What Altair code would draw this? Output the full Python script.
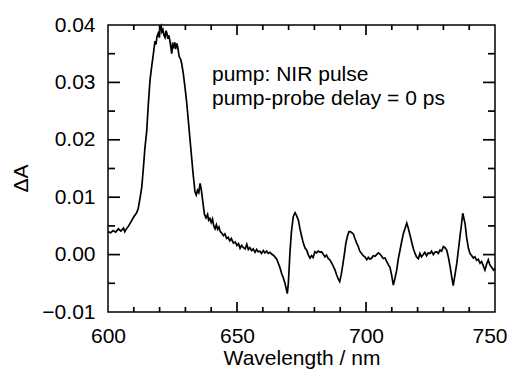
import altair as alt
import pandas as pd

# ---- spectrum ----
wavelength_nm = [
    600, 601, 602, 603, 604, 605, 606, 606.5, 607, 608, 609, 610, 611, 611.7, 612.4, 613.1, 613.7,
    614.3, 615.0, 615.6, 616.3, 617.0, 617.6, 618.2, 618.6, 619.0, 619.5, 619.9, 620.2, 620.6,
    620.9, 621.3, 621.7, 622.1, 622.5, 622.8, 623.2, 623.6, 624.0, 624.4, 624.7, 625.0, 625.4,
    625.8, 626.2, 626.6, 627.0, 627.6, 628.2, 628.6, 629.2, 629.8, 630.5, 631.1, 631.8, 632.4,
    633.0, 633.7, 634.2, 634.7, 635.2, 635.7, 636.2, 636.8, 637.4, 638.0, 638.6, 639.0, 639.5,
    640.0, 640.5, 641.0, 641.5, 642.0, 642.5, 643.0, 643.5, 644.0, 644.7, 645.3, 646.0, 646.6,
    647.2, 647.8, 648.6, 649.3, 650.0, 650.6, 651.2, 651.8, 652.5, 653.2, 653.8, 654.4, 655.0,
    655.7, 656.3, 657.0, 657.6, 658.2, 658.9, 659.5, 660.2, 660.8, 661.5, 662.1, 662.8, 663.4,
    664.1, 664.7, 665.4, 666.0, 666.6, 667.3, 667.9, 668.6, 669.1, 669.5, 669.9, 670.2, 670.5,
    671.1, 671.8, 672.5, 673.1, 673.8, 674.4, 675.1, 675.7, 676.4, 677.0, 677.6, 678.3, 678.9,
    679.5, 680.2, 680.8, 681.5, 682.2, 682.8, 683.5, 684.1, 684.7, 685.4, 686.0, 686.7, 687.3,
    688.0, 688.6, 689.2, 689.8, 690.4, 691.0, 691.6, 692.2, 692.8, 693.4, 693.9, 694.5, 695.1,
    695.7, 696.4, 697.0, 697.6, 698.3, 698.9, 699.6, 700.3, 700.9, 701.5, 702.2, 702.8, 703.5,
    704.1, 704.8, 705.4, 706.1, 706.7, 707.4, 708.0, 708.7, 709.3, 709.9, 710.6, 711.2, 711.9,
    712.5, 713.2, 713.8, 714.5, 715.1, 715.8, 716.4, 717.1, 717.7, 718.3, 719.0, 719.6, 720.3,
    720.9, 721.5, 722.2, 722.8, 723.5, 724.1, 724.8, 725.4, 726.1, 726.7, 727.4, 728.0, 728.7,
    729.3, 730.0, 730.6, 731.3, 731.9, 732.6, 733.2, 733.8, 734.5, 735.2, 735.8, 736.4, 737.0,
    737.5, 738.0, 738.4, 739.0, 739.7, 740.3, 741.0, 741.6, 742.2, 742.9, 743.5, 744.2, 744.8,
    745.5, 746.1, 746.8, 747.4, 748.0, 748.7, 749.4, 750.0,
]
delta_a = [
    0.0040, 0.0038, 0.0042, 0.0039, 0.0045, 0.0041, 0.0046, 0.0040, 0.0044, 0.0050, 0.0058, 0.0066,
    0.0072, 0.0080, 0.0098, 0.0118, 0.0150, 0.0185, 0.0215, 0.0260, 0.0305, 0.0330, 0.0350, 0.0372,
    0.0366, 0.0380, 0.0386, 0.0378, 0.0394, 0.0398, 0.0388, 0.0392, 0.0382, 0.0378, 0.0390, 0.0386,
    0.0376, 0.0382, 0.0372, 0.0360, 0.0350, 0.0366, 0.0362, 0.0370, 0.0358, 0.0368, 0.0362, 0.0345,
    0.0340, 0.0332, 0.0315, 0.0293, 0.0265, 0.0235, 0.0200, 0.0170, 0.0140, 0.0110, 0.0104, 0.0112,
    0.0108, 0.0124, 0.0112, 0.0090, 0.0070, 0.0064, 0.0070, 0.0060, 0.0063, 0.0056, 0.0062, 0.0050,
    0.0045, 0.0052, 0.0044, 0.0048, 0.0040, 0.0038, 0.0033, 0.0036, 0.0028, 0.0030, 0.0024, 0.0028,
    0.0020, 0.0022, 0.0016, 0.0019, 0.0011, 0.0016, 0.0012, 0.0010, 0.0018, 0.0009, 0.0012, 0.0007,
    0.0010, 0.0004, 0.0009, 0.0005, 0.0006, 0.0002, 0.0007, 0.0003, 0.0006, 0.0002, 0.0004, 0.0001,
    -0.0001, -0.0004, -0.0008, -0.0015, -0.0022, -0.0033, -0.0040, -0.0050, -0.0060, -0.0068,
    -0.0050, -0.0025, 0.0002, 0.0040, 0.0066, 0.0073, 0.0068, 0.0060, 0.0045, 0.0031, 0.0020,
    0.0011, 0.0008, 0.0000, -0.0006, -0.0002, -0.0005, 0.0005, 0.0003, 0.0006, 0.0004, 0.0005,
    0.0000, -0.0004, -0.0001, -0.0007, -0.0009, -0.0015, -0.0020, -0.0027, -0.0035, -0.0042,
    -0.0047, -0.0035, -0.0018, 0.0000, 0.0020, 0.0032, 0.0040, 0.0040, 0.0038, 0.0036, 0.0028,
    0.0020, 0.0014, 0.0006, 0.0002, -0.0002, -0.0004, -0.0009, -0.0005, -0.0008, -0.0006, -0.0002,
    -0.0003, 0.0000, 0.0003, 0.0001, -0.0003, -0.0007, -0.0006, -0.0012, -0.0018, -0.0022, -0.0035,
    -0.0053, -0.0042, -0.0027, -0.0008, 0.0008, 0.0022, 0.0037, 0.0045, 0.0055, 0.0046, 0.0033,
    0.0022, 0.0011, 0.0002, -0.0004, -0.0007, 0.0002, -0.0004, 0.0000, 0.0004, -0.0002, 0.0003,
    0.0002, 0.0006, 0.0000, 0.0004, 0.0005, 0.0002, 0.0008, 0.0006, 0.0014, 0.0012, 0.0008, -0.0004,
    -0.0021, -0.0038, -0.0054, -0.0035, -0.0015, 0.0008, 0.0031, 0.0052, 0.0072, 0.0062, 0.0054,
    0.0030, 0.0011, 0.0002, -0.0002, -0.0006, -0.0004, -0.0010, -0.0008, -0.0015, -0.0012, -0.0020,
    -0.0027, -0.0016, -0.0009, -0.0018, -0.0022, -0.0027, -0.0024,
]

# ---- axes ----
x_domain = [600, 750]
y_domain = [-0.01, 0.04]
x_major_ticks = [600, 650, 700, 750]
x_minor_ticks = [610, 620, 630, 640, 660, 670, 680, 690, 710, 720, 730, 740]
x_inner_major = [650, 700]
y_major_ticks = [-0.01, 0.0, 0.01, 0.02, 0.03, 0.04]
y_inner_major = [0.0, 0.01, 0.02, 0.03]
y_minor_ticks = [-0.005, 0.005, 0.015, 0.025, 0.035]
x_title = "Wavelength / nm"
y_title = "ΔA"
annotation_lines = ["pump: NIR pulse", "pump-probe delay = 0 ps"]

W, H = 387, 287
FONT = "Liberation Sans"
X_PER_PX = (x_domain[1] - x_domain[0]) / W
Y_PER_PX = (y_domain[1] - y_domain[0]) / H

# curve rows + inward tick segments (two end points each, placed through the same scales)
rows = [{"w": w, "a": a, "id": "curve"} for w, a in zip(wavelength_nm, delta_a)]


def add_x_ticks(vals, length):
    for v in vals:
        for edge, sign, tag in ((y_domain[0], 1, "b"), (y_domain[1], -1, "t")):
            k = f"x{tag}{v}"
            rows.append({"w": v, "a": edge, "id": k})
            rows.append({"w": v, "a": edge + sign * length * Y_PER_PX, "id": k})


def add_y_ticks(vals, length):
    for v in vals:
        for edge, sign, tag in ((x_domain[0], 1, "l"), (x_domain[1], -1, "r")):
            k = f"y{tag}{v}"
            rows.append({"w": edge, "a": v, "id": k})
            rows.append({"w": edge + sign * length * X_PER_PX, "a": v, "id": k})


add_x_ticks(x_inner_major, 10)
add_x_ticks(x_minor_ticks, 5)
add_y_ticks(y_inner_major, 12)
add_y_ticks(y_minor_ticks, 7)
plot_df = pd.DataFrame(rows)

xs = alt.Scale(domain=x_domain, nice=False, zero=False)
ys = alt.Scale(domain=y_domain, nice=False, zero=False)

LBL = dict(labelFontSize=21, labelFont=FONT, labelColor="black",
           titleFontSize=21, titleFont=FONT, titleColor="black", titleFontWeight="normal",
           titleBaseline="alphabetic", grid=False, domain=False, ticks=False)

curve = alt.Chart(plot_df).mark_line(color="black", strokeWidth=1.7).encode(
    x=alt.X("w:Q", scale=xs, axis=alt.Axis(
        orient="bottom", values=x_major_ticks, format="d", title=x_title, labelPadding=13,
        labelAlign={"expr": "datum.value == 750 ? 'right' : 'center'"},
        labelOffset={"expr": "datum.value == 750 ? 12 : 0"},
        titleY=52, **LBL)),
    y=alt.Y("a:Q", scale=ys, axis=alt.Axis(
        orient="left", values=y_major_ticks, format=".2f", title=y_title, labelPadding=13,
        titleX=-81, titleY=153, **LBL)),
    detail="id:N",
)


def note(text, ypix):
    return alt.Chart(pd.DataFrame({"t": [text]})).mark_text(
        align="left", baseline="alphabetic", font=FONT, fontSize=21, color="black"
    ).encode(text="t:N", x=alt.value(104), y=alt.value(ypix))


chart = alt.layer(
    curve, note(annotation_lines[0], 56), note(annotation_lines[1], 80)
).properties(
    width=W, height=H,
    background="white",
    autosize=alt.AutoSizeParams(type="none"),
    padding={"left": 100, "top": 17, "right": 12, "bottom": 57},
).configure_view(stroke="#000000", strokeWidth=1.5)

chart.save("out.html", embed_options={"renderer": "svg", "actions": False})
